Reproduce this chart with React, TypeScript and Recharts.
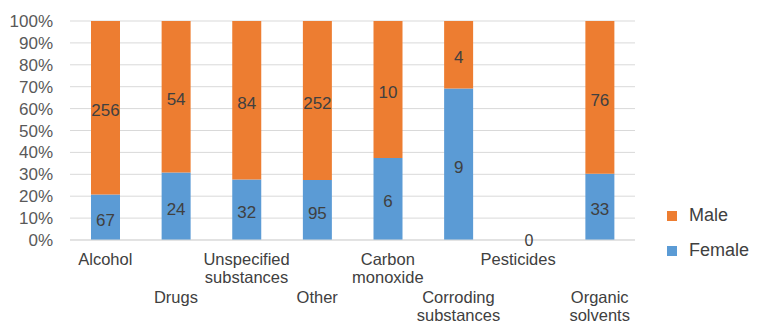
import React from 'react';
import { BarChart, Bar, XAxis, YAxis, CartesianGrid, LabelList } from 'recharts';

const categories = [
  'Alcohol',
  'Drugs',
  'Unspecified substances',
  'Other',
  'Carbon monoxide',
  'Corroding substances',
  'Pesticides',
  'Organic solvents',
];
const female = [67, 24, 32, 95, 6, 9, 0, 33];
const male = [256, 54, 84, 252, 10, 4, 0, 76];
const yTicks = [0, 0.1, 0.2, 0.3, 0.4, 0.5, 0.6, 0.7, 0.8, 0.9, 1];

const MALE = '#ED7D31';
const FEMALE = '#5B9BD5';
const FONT = '"Liberation Sans", Arial, sans-serif';

const data = categories.map((name, i) => ({ name, female: female[i], male: male[i] }));

// value labels centred in each stacked segment
const SegmentLabel = (props: any) => {
  const { x, y, width, height, value, index } = props;
  if (value === undefined || value === null) return null;
  return (
    <text
      key={`lbl-${index}`}
      x={Number(x) + Number(width) / 2}
      y={Number(y) + Number(height) / 2 + 3}
      textAnchor="middle"
      dominantBaseline="central"
      fontSize={17}
      fontFamily={FONT}
      fill="#404040"
    >
      {value}
    </text>
  );
};

// category labels alternate between two rows, split onto one word per line.
// empty categories have no bar, so their "0" value sits on the axis here
// and the name is nudged left of it.
const CategoryTick = (props: any) => {
  const { x, y, payload } = props;
  const idx = props.index ?? categories.indexOf(payload.value);
  const lines = String(payload.value).split(' ');
  const top = idx % 2 === 0 ? 25 : 63;
  const total = female[idx] + male[idx];
  const nameX = total === 0 ? x - 11 : x;
  return (
    <g>
      {total === 0 && (
        <text x={x} y={y} textAnchor="middle" dominantBaseline="central" fontSize={16} fontFamily={FONT} fill="#404040">
          {total}
        </text>
      )}
      <text textAnchor="middle" fontSize={16.5} fontFamily={FONT} fill="#404040">
        {lines.map((line, i) => (
          <tspan key={i} x={nameX} y={y + top + i * 18}>
            {line}
          </tspan>
        ))}
      </text>
    </g>
  );
};

const legendItems = [
  { label: 'Male', color: MALE },
  { label: 'Female', color: FEMALE },
];

export default function App() {
  return (
    <div style={{ position: 'absolute', left: 0, top: 0, width: 758, height: 327, background: '#fff' }}>
      <BarChart
        width={758}
        height={327}
        data={data}
        stackOffset="expand"
        margin={{ top: 21, right: 123, left: 10, bottom: 0 }}
      >
        <CartesianGrid vertical={false} stroke="#D9D9D9" />
        <XAxis
          dataKey="name"
          interval={0}
          height={87}
          axisLine={{ stroke: '#D9D9D9' }}
          tickLine={false}
          tickSize={0}
          tickMargin={0}
          tick={<CategoryTick />}
        />
        <YAxis
          width={60}
          domain={[0, 1]}
          ticks={yTicks}
          interval={0}
          axisLine={false}
          tickLine={false}
          tickSize={0}
          tickMargin={17}
          tickFormatter={(v: number) => `${Math.round(v * 100)}%`}
          tick={{ fontSize: 17, fontFamily: FONT, fill: '#595959' }}
        />
        <Bar dataKey="female" stackId="a" fill={FEMALE} barSize={29} isAnimationActive={false}>
          <LabelList dataKey="female" content={<SegmentLabel />} />
        </Bar>
        <Bar dataKey="male" stackId="a" fill={MALE} barSize={29} isAnimationActive={false}>
          <LabelList dataKey="male" content={<SegmentLabel />} />
        </Bar>
      </BarChart>
      <div style={{ position: 'absolute', left: 667, top: 198, fontFamily: FONT, fontSize: 18, color: '#404040' }}>
        {legendItems.map((item) => (
          <div key={item.label} style={{ display: 'flex', alignItems: 'center', height: 35 }}>
            <span style={{ width: 10, height: 10, background: item.color, marginRight: 12 }} />
            {item.label}
          </div>
        ))}
      </div>
    </div>
  );
}
